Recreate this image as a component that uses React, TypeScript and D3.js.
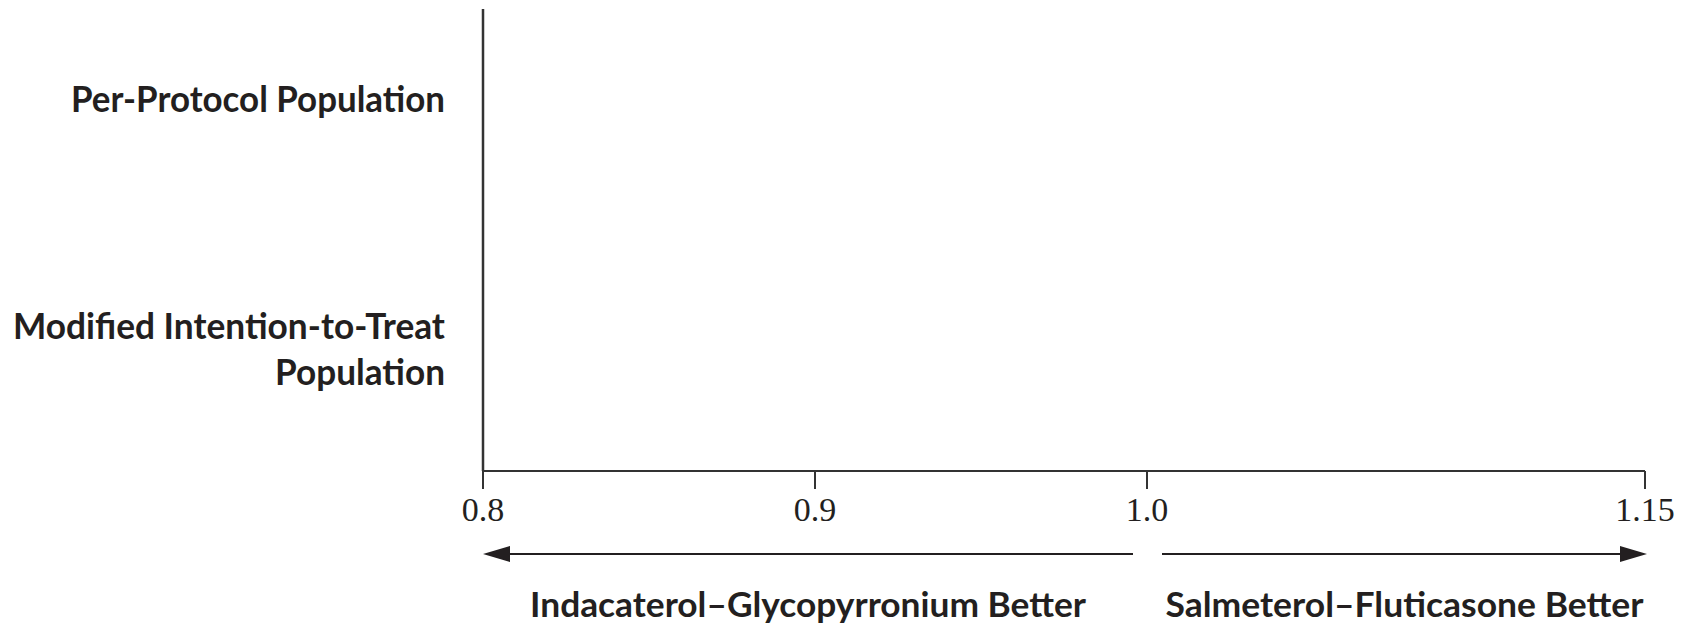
import React from "react";
import * as d3 from "d3";

// Rows of the forest plot (each label may wrap onto several lines)
const populations: string[] = ["Per-Protocol Population", "Modified Intention-to-Treat Population"];
const populationLines: string[][] = [
  ["Per-Protocol Population"],
  ["Modified Intention-to-Treat", "Population"],
];
// Rate ratio axis
const axisDomain: [number, number] = [0.8, 1.15];
const tickValues: number[] = [0.8, 0.9, 1.0, 1.15];
const tickLabels: string[] = ["0.8", "0.9", "1.0", "1.15"];
const favourLabels: string[] = ["Indacaterol\u2013Glycopyrronium Better", "Salmeterol\u2013Fluticasone Better"];

// measured widths of the label strings in the drawing (px)
const labelWidths: Record<string, number> = {
  "Per-Protocol Population": 374,
  "Modified Intention-to-Treat": 432,
  "Population": 170,
  "Indacaterol\u2013Glycopyrronium Better": 556,
  "Salmeterol\u2013Fluticasone Better": 478,
};

const W = 1694;
const H = 629;
const INK = "#231f20";
const LINE = "#333333";
const SANS = "Lato, 'Open Sans', 'DejaVu Sans', sans-serif";
const SERIF = "'Liberation Serif', 'DejaVu Serif', serif";

export default function App() {
  const x = d3.scaleLinear().domain(axisDomain).range([483, 1645]);
  const y = d3.scalePoint<string>().domain(populations).range([99, 349]);

  const axisY = 471;
  const topY = 9;
  const tickLen = 18;
  const arrowY = 554;
  const gapL = 1133;
  const gapR = 1162;
  const headLen = 27;
  const headHalf = 8;
  const leftTip = x(axisDomain[0]);
  const rightTip = x(axisDomain[1]) + 2;

  const lineH = 46;

  return (
    <svg
      width={W}
      height={H}
      viewBox={`0 0 ${W} ${H}`}
      style={{ position: "absolute", left: 0, top: 0, display: "block", background: "#fff" }}
    >
      {/* row labels */}
      {populations.map((p, i) => {
        const lines = populationLines[i];
        const cy = y(p) as number;
        const first = cy + 13 - ((lines.length - 1) * lineH) / 2;
        return (
          <g key={p}>
            {lines.map((ln, j) => (
              <text
                key={ln}
                x={445}
                y={first + j * lineH}
                textAnchor="end"
                fontFamily={SANS}
                fontWeight={700}
                fontSize={36}
                fill={INK}
                textLength={labelWidths[ln]}
                lengthAdjust="spacingAndGlyphs"
              >
                {ln}
              </text>
            ))}
          </g>
        );
      })}

      {/* vertical reference line at the left edge */}
      <line x1={x(axisDomain[0])} x2={x(axisDomain[0])} y1={topY} y2={axisY} stroke={LINE} strokeWidth={2.5} />

      {/* x axis */}
      <line x1={x(axisDomain[0])} x2={x(axisDomain[1])} y1={axisY} y2={axisY} stroke={LINE} strokeWidth={2} />
      {tickValues.map((t, i) => (
        <g key={t}>
          <line x1={x(t)} x2={x(t)} y1={axisY} y2={axisY + tickLen} stroke={LINE} strokeWidth={2} />
          <text
            x={x(t)}
            y={521}
            textAnchor="middle"
            fontFamily={SERIF}
            fontSize={34}
            fill={INK}
          >
            {tickLabels[i]}
          </text>
        </g>
      ))}

      {/* direction arrows */}
      <line x1={leftTip + headLen - 2} x2={gapL} y1={arrowY} y2={arrowY} stroke={INK} strokeWidth={2} />
      <path
        d={`M${leftTip},${arrowY} L${leftTip + headLen},${arrowY - headHalf} L${leftTip + headLen},${arrowY + headHalf} Z`}
        fill={INK}
      />
      <line x1={gapR} x2={rightTip - headLen + 2} y1={arrowY} y2={arrowY} stroke={INK} strokeWidth={2} />
      <path
        d={`M${rightTip},${arrowY} L${rightTip - headLen},${arrowY - headHalf} L${rightTip - headLen},${arrowY + headHalf} Z`}
        fill={INK}
      />

      {/* favour labels centred under each arrow */}
      <text
        x={(leftTip + gapL) / 2}
        y={617}
        textAnchor="middle"
        fontFamily={SANS}
        fontWeight={700}
        fontSize={35}
        fill={INK}
        textLength={labelWidths[favourLabels[0]]}
        lengthAdjust="spacingAndGlyphs"
      >
        {favourLabels[0]}
      </text>
      <text
        x={(gapR + rightTip) / 2}
        y={617}
        textAnchor="middle"
        fontFamily={SANS}
        fontWeight={700}
        fontSize={35}
        fill={INK}
        textLength={labelWidths[favourLabels[1]]}
        lengthAdjust="spacingAndGlyphs"
      >
        {favourLabels[1]}
      </text>
    </svg>
  );
}
